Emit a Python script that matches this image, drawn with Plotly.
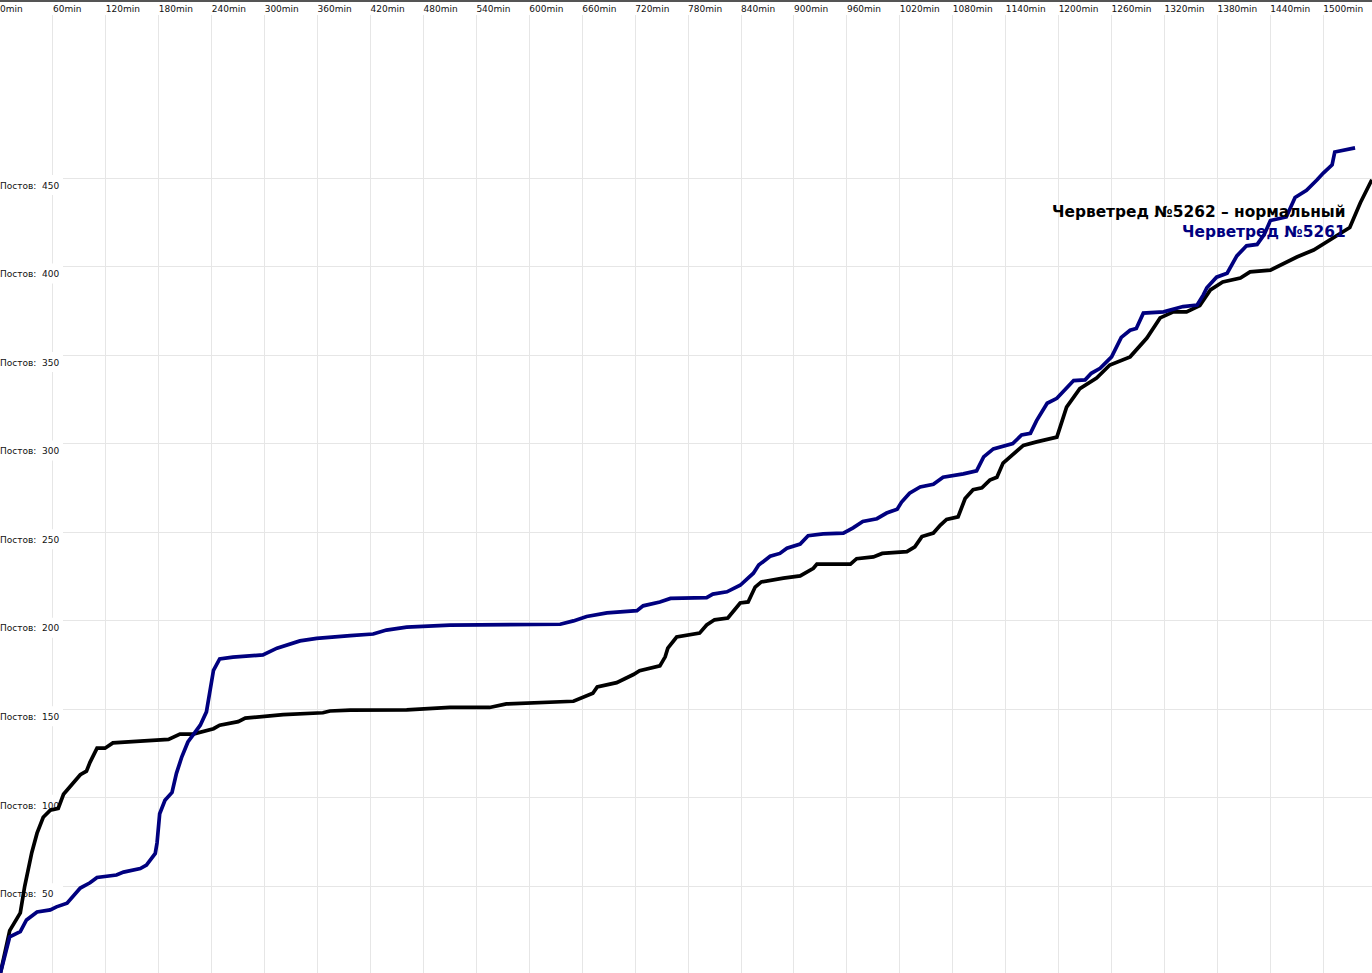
import plotly.graph_objects as go

# ---- data (minutes, posts) ----
t_5262 = [0, 11, 23, 28, 36, 42, 49, 57, 66, 72, 91, 98, 102, 110, 119, 128, 159, 191, 204, 219,
          242, 249, 270, 278, 321, 366, 374, 397, 461, 510, 555, 574, 650, 661, 672, 677, 699, 718,
          725, 748, 754, 757, 767, 793, 801, 810, 825, 839, 848, 856, 863, 888, 907, 922, 926, 964,
          971, 990, 1000, 1028, 1037, 1045, 1058, 1066, 1073, 1086, 1094, 1103, 1113, 1122, 1130,
          1137, 1148, 1160, 1175, 1194, 1198, 1209, 1224, 1243, 1258, 1281, 1300, 1315, 1330, 1345,
          1360, 1372, 1386, 1406, 1417, 1440, 1455, 1470, 1489, 1504, 1530, 1542, 1555]
v_5262 = [0, 25, 35, 50, 69, 80, 89, 93, 94, 102, 113, 115, 120, 128, 128, 131, 132, 133, 136, 136,
          139, 141, 143, 145, 147, 148, 149, 149.5, 149.6, 151, 151, 153, 154.5, 157, 159, 162.6, 165,
          169.6, 171.8, 174.5, 179.6, 184.5, 190.8, 193, 197.6, 200.5, 201.5, 210, 210.6, 219, 221.9,
          224, 225.3, 229.6, 232, 232, 235, 236, 238, 239, 241.7, 247.5, 249.5, 254, 257.2, 258.6,
          269, 274, 275, 279.4, 281, 289, 293.6, 299, 301, 303, 303.7, 320.6, 331, 337, 344.4, 349,
          359.6, 371, 374.4, 374.4, 378, 386.8, 391.3, 393.5, 397, 398, 401.9, 405.4, 409.3, 413.9,
          422, 436, 449]

t_5261 = [0, 11, 23, 30, 42, 57, 64, 76, 91, 102, 110, 132, 140, 159, 166, 176, 178, 181, 187, 195,
          200, 206, 213, 227, 234, 238, 242, 249, 264, 298, 314, 340, 359, 397, 423, 438, 461, 510,
          635, 650, 665, 688, 722, 729, 748, 760, 801, 808, 824, 839, 854, 860, 873, 884, 892, 907,
          916, 933, 956, 967, 978, 994, 1005, 1017, 1022, 1031, 1043, 1058, 1069, 1092, 1107, 1115,
          1126, 1148, 1158, 1168, 1175, 1187, 1198, 1217, 1230, 1237, 1247, 1260, 1271, 1281, 1288,
          1296, 1319, 1341, 1357, 1364, 1368, 1379, 1391, 1402, 1413, 1425, 1433, 1440, 1458, 1468,
          1481, 1493, 1500, 1510, 1513, 1536]
v_5261 = [0, 21.5, 24.4, 31, 35.5, 36.7, 38.4, 40.5, 49, 52, 55, 56.4, 58, 60, 62, 68.6, 74.5, 91,
          98.6, 103, 113.8, 123, 131.5, 141, 148.5, 159, 172, 178.4, 179.4, 180.7, 184.5, 188.6, 190,
          191.6, 192.5, 194.7, 196.4, 197.5, 198, 199.9, 202.4, 204.4, 205.7, 208.4, 210.6, 212.6,
          213, 215, 216.3, 220, 226.8, 231.4, 236.4, 238, 240.9, 243.3, 248, 249, 249.5, 252.4, 256,
          257.6, 260.8, 263, 267, 272, 275.5, 277, 281, 282.9, 284.6, 292.5, 297, 300, 304.9, 305.8,
          313, 322.8, 325.6, 335.6, 336, 339.7, 342.5, 349, 360, 364, 365, 373.7, 374.4, 377.4, 378.3,
          384, 388, 394, 396.2, 406, 411.7, 412.5, 418, 426, 428, 439, 443, 449, 452.8, 457.4, 464.7,
          467]

x_ticks = list(range(0, 1501, 60))
x_labels = [f"{m}min" for m in x_ticks]
y_ticks = [50, 100, 150, 200, 250, 300, 350, 400, 450]
y_labels = [f"Постов:  {v}" for v in y_ticks]

name_5262 = "Червеtред №5262 – нормальный".replace("t", "т")
name_5261 = "Червеtред №5261".replace("t", "т")

BLACK = "#000000"
NAVY = "#00007f"
GRID = "#e6e6e6"

Y_MIN, Y_MAX = 1.05, 542.05
PLOT_H = 958
px_per_unit = PLOT_H / (Y_MAX - Y_MIN)
label_drop = 4 / px_per_unit   # move y labels a few pixels below their grid line

fig = go.Figure()

# y labels (drawn below the curves)
fig.add_trace(go.Scatter(
    x=[0] * len(y_ticks), y=[v - label_drop for v in y_ticks], mode="text", text=y_labels,
    textposition="bottom right", textfont=dict(family="DejaVu Sans", size=9, color="#111111"),
    hoverinfo="skip", showlegend=False, cliponaxis=False))

fig.add_trace(go.Scatter(x=t_5262, y=v_5262, mode="lines", name=name_5262,
                         line=dict(color=BLACK, width=3.7), showlegend=False))
fig.add_trace(go.Scatter(x=t_5261, y=v_5261, mode="lines", name=name_5261,
                         line=dict(color=NAVY, width=3.7), showlegend=False))

shapes = []
for v in y_ticks:
    shapes.append(dict(type="rect", layer="between", xref="x", yref="y",
                       xsizemode="pixel", ysizemode="pixel", xanchor=0, yanchor=v,
                       x0=0, x1=63, y0=-17, y1=3, fillcolor="white", line=dict(width=0)))
shapes.append(dict(type="line", xref="paper", yref="paper", x0=0, x1=1,
                   y0=1 + 14 / PLOT_H, y1=1 + 14 / PLOT_H, line=dict(color="#555555", width=2)))

fig.update_layout(
    width=1372, height=973,
    margin=dict(l=0, r=0, t=15, b=0, pad=0),
    paper_bgcolor="white", plot_bgcolor="white",
    showlegend=False,
    shapes=shapes,
    xaxis=dict(range=[0, 1555.2], side="top", tickvals=x_ticks, ticktext=x_labels,
               ticklabelposition="outside right", ticks="", showgrid=True, gridcolor=GRID,
               gridwidth=1, zeroline=False, showline=False,
               tickfont=dict(family="DejaVu Sans", size=9, color="#111111")),
    yaxis=dict(range=[Y_MIN, Y_MAX], tickvals=y_ticks, showticklabels=False, ticks="",
               showgrid=True, gridcolor=GRID, gridwidth=1, zeroline=False, showline=False),
    annotations=[
        dict(x=1528, y=430.8, xref="x", yref="y", xanchor="right", yanchor="middle",
             text=f"<b>{name_5262}</b>", showarrow=False,
             font=dict(family="DejaVu Sans", size=15.4, color=BLACK)),
        dict(x=1528, y=419.5, xref="x", yref="y", xanchor="right", yanchor="middle",
             text=f"<b>{name_5261}</b>", showarrow=False,
             font=dict(family="DejaVu Sans", size=15.4, color=NAVY)),
    ],
)

fig.write_html("out.html", config={"displayModeBar": False},
               post_script="document.body.style.margin='0';")
